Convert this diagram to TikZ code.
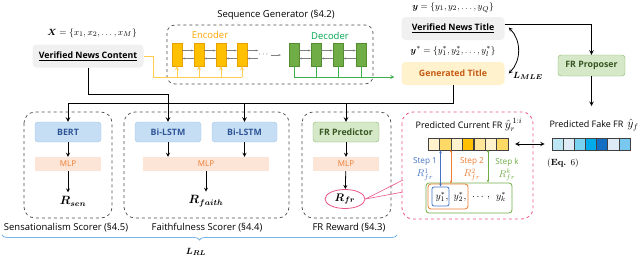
\documentclass[tikz,border=0pt]{standalone}
\usepackage{fontspec}
\setsansfont{Open Sans}
\usepackage{amsmath,bm}
\usetikzlibrary{shapes.geometric,decorations.pathreplacing,arrows.meta}
\definecolor{grayfill}{RGB}{240,240,240}
\definecolor{bluefill}{RGB}{197,222,244}
\definecolor{bluedraw}{RGB}{160,198,232}
\definecolor{bluetext}{RGB}{47,85,151}
\definecolor{mlpfill}{RGB}{252,228,214}
\definecolor{mlptext}{RGB}{237,125,49}
\definecolor{greenfill}{RGB}{213,232,200}
\definecolor{greendraw}{RGB}{130,180,100}
\definecolor{greentext}{RGB}{56,87,35}
\definecolor{encfill}{RGB}{255,192,0}
\definecolor{encdraw}{RGB}{230,160,0}
\definecolor{encline}{RGB}{255,205,80}
\definecolor{enctext}{RGB}{255,165,0}
\definecolor{decfill}{RGB}{112,173,71}
\definecolor{decdraw}{RGB}{84,140,50}
\definecolor{decline}{RGB}{60,175,75}
\definecolor{dectext}{RGB}{0,166,80}
\definecolor{genfill}{RGB}{255,242,204}
\definecolor{gentext}{RGB}{197,90,17}
\definecolor{pinkc}{RGB}{232,84,140}
\definecolor{bracec}{RGB}{120,180,230}
\definecolor{stepblue}{RGB}{68,114,196}
\definecolor{steporange}{RGB}{237,125,49}
\definecolor{stepgreen}{RGB}{112,173,71}
\definecolor{yA}{RGB}{255,242,204}
\definecolor{yB}{RGB}{255,217,102}
\definecolor{yC}{RGB}{255,192,0}
\definecolor{yD}{RGB}{255,230,153}
\definecolor{bA}{RGB}{189,230,245}
\definecolor{bB}{RGB}{222,235,247}
\definecolor{bC}{RGB}{120,210,240}
\definecolor{bD}{RGB}{0,170,235}
\definecolor{bE}{RGB}{20,110,195}
\definecolor{bF}{RGB}{120,200,240}
\begin{document}
\begin{tikzpicture}[x=1pt, y=-1pt, >=stealth,
	every node/.style={font=\sffamily\fontsize{9.5}{11}\selectfont},
	eq/.style={font=\fontsize{9.5}{11}\selectfont},
	graybox/.style={fill=grayfill, rounded corners=4pt, font=\sffamily\bfseries\fontsize{8.8}{10}\selectfont},
	genbox/.style={fill=genfill, rounded corners=4pt, text=gentext, minimum width=103pt, minimum height=23pt, font=\sffamily\bfseries\fontsize{8.8}{10}\selectfont},
	bluebox/.style={draw=bluedraw, fill=bluefill, text=bluetext, rounded corners=3pt, minimum height=20pt, font=\sffamily\bfseries\fontsize{8.8}{10}\selectfont},
	greenbox/.style={draw=greendraw, fill=greenfill, text=greentext, rounded corners=3pt, font=\sffamily\bfseries\fontsize{8.8}{10}\selectfont},
	mlp/.style={fill=mlpfill, text=mlptext, minimum height=14pt, inner sep=0pt, font=\sffamily\fontsize{8}{9}\selectfont},
	cellenc/.style={draw=encdraw, fill=encfill, minimum width=10pt, minimum height=23pt, inner sep=0pt},
	celldec/.style={draw=decdraw, fill=decfill, minimum width=10pt, minimum height=23pt, inner sep=0pt},
	cellarr/.style={gray, line width=0.5pt, >={Stealth[length=2.5pt,width=2pt]}},
	dbox/.style={dashed, gray!60!black, line width=0.7pt, rounded corners=11pt},
	barcell/.style={draw=black!75, minimum width=11.3pt, minimum height=12pt, inner sep=0pt},
	steparr/.style={line width=0.7pt, >={Stealth[length=3pt,width=2.5pt]}},
	steplab/.style={font=\sffamily\fontsize{8.2}{9}\selectfont},
	rstep/.style={font=\fontsize{10}{11}\selectfont},
	rlab/.style={font=\fontsize{12}{14}\selectfont}]
	\useasboundingbox (0,0) rectangle (640,260);
	% Định nghĩa các điểm
	\path
	(403,180) coordinate (zA)
	(403,192) coordinate (zB)
	(591.5,106) coordinate (fakein)
	;
	% Tin tức và tiêu đề
	\node[eq] (xeq) at (92,33) {$\bm{X} = \{x_1, x_2, \ldots, x_M\}$};
	\node[graybox, minimum width=111pt, minimum height=23pt] (content) at (88,56) {\underline{Verified News Content}};
	\node[eq] (yeq) at (453,7.5) {$\bm{y} = \{y_1, y_2, \ldots, y_Q\}$};
	\node[graybox, minimum width=103pt, minimum height=23pt] (title) at (453,28.5) {\underline{Verified News Title}};
	\node[eq] (ystar) at (453,51.5) {$\bm{y}^{*} = \{y_1^*, y_2^*, \ldots, y_l^*\}$};
	\node[genbox] (gen) at (453,73.5) {Generated Title};
	\node[greenbox, minimum width=67pt, minimum height=21pt] (proposer) at (591.5,65.5) {FR Proposer};
	% Bộ sinh chuỗi
	\draw[dashed, gray!60!black, line width=0.7pt, rounded corners=8pt] (167,25) rectangle (373,84);
	\node (seqlab) at (276,15) {Sequence Generator (§4.2)};
	\node[text=enctext] (enclab) at (210,35) {Encoder};
	\node[text=dectext] (declab) at (330,36) {Decoder};
	\foreach \x [count=\i] in {177,199,221,242} \node[cellenc] (e\i) at (\x,54.5) {};
	\foreach \x [count=\i] in {294,316,338,361} \node[celldec] (d\i) at (\x,54.5) {};
	\foreach \i/\j in {1/2,2/3,3/4} {
	\draw[cellarr,->] ([yshift=4pt]e\i.east) -- ([yshift=4pt]e\j.west);
	\draw[cellarr,<-] ([yshift=-4pt]e\i.east) -- ([yshift=-4pt]e\j.west);
	\draw[cellarr,->] ([yshift=4pt]d\i.east) -- ([yshift=4pt]d\j.west);
	\draw[cellarr,<-] ([yshift=-4pt]d\i.east) -- ([yshift=-4pt]d\j.west);
	}
	\draw[cellarr,->] ([yshift=4pt]e4.east) -- ++(11,0);
	\draw[cellarr,<-] ([yshift=-4pt]e4.east) -- ++(11,0);
	\node[inner sep=1pt, font=\fontsize{8}{9}\selectfont] (dots) at (264,55) {$\cdots$};
	\draw[cellarr,->] (dots.east) -- ++(10,0);
	% Đường vào encoder, ra decoder
	\draw[encline, line width=0.8pt] (content.east) -- ++(10,0) -- ++(0,21) -- (e4.south |- 0,77);
	\foreach \i in {1,...,4} \draw[encline, line width=0.8pt, ->] (e\i.south |- 0,77) -- (e\i.south);
	\foreach \i in {1,...,4} \draw[decline, line width=0.8pt] (d\i.south) -- (d\i.south |- 0,77);
	\draw[decline, line width=0.8pt, ->, shorten >=7pt] (d1.south |- 0,77) -- (gen.west |- 0,77);
	% L_MLE
	\draw[line width=0.8pt, <->] ([xshift=4pt,yshift=1pt]title.east) to[bend left=45] ([xshift=4pt]gen.east);
	\node[eq] (lmle) at (528,76) {$\bm{L_{MLE}}$};
	% Các bộ chấm điểm
	\draw[dbox] (24,112) rectangle (112,218);
	\draw[dbox] (124,112) rectangle (289,218);
	\draw[dbox] (302,112) rectangle (391,218);
	\node[bluebox, minimum width=66pt] (bert) at (68,132) {BERT};
	\node[bluebox, minimum width=66pt] (lstmA) at (168,132) {Bi-LSTM};
	\node[bluebox, minimum width=65pt] (lstmB) at (244.5,132) {Bi-LSTM};
	\node[greenbox, minimum width=66pt, minimum height=20pt] (pred) at (346,132) {FR Predictor};
	\node[mlp, minimum width=66pt] (mlpA) at (68,164) {MLP};
	\node[mlp, minimum width=126pt] (mlpB) at (206,164) {MLP};
	\node[mlp, minimum width=66pt] (mlpC) at (346,164) {MLP};
	\node[rlab] (rsen) at (73,201) {$\bm{R_{sen}}$};
	\node[rlab] (rfaith) at (206,201) {$\bm{R_{faith}}$};
	\node[ellipse, draw=pinkc, line width=0.8pt, minimum width=40pt, minimum height=19pt, inner sep=0pt, font=\fontsize{11}{12}\selectfont] (rfr) at (345,199) {$\bm{R_{fr}}$};
	\draw[line width=0.8pt, ->] (bert) -- (mlpA);
	\draw[line width=0.8pt, ->] (mlpA.south) -- (mlpA.south |- rsen.north);
	\draw[line width=0.8pt, ->] (lstmA) -- (lstmA |- mlpB.north);
	\draw[line width=0.8pt, ->] (lstmB) -- (lstmB |- mlpB.north);
	\draw[line width=0.8pt, ->] (mlpB) -- (rfaith);
	\draw[line width=0.8pt, ->] (pred) -- (mlpC);
	\draw[line width=0.8pt, ->] (mlpC) -- (rfr);
	\node (senlab) at (66,228) {Sensationalism Scorer (§4.5)};
	\node (faithlab) at (207,228) {Faithfulness Scorer (§4.4)};
	\node (frlab) at (349,228) {FR Reward (§4.3)};
	\draw[bracec, line width=0.8pt, decorate, decoration={brace, amplitude=5pt}] (397,235) -- (2,235);
	\node[eq] (lrl) at (196,252) {$\bm{L_{RL}}$};
	% Đường nối chính
	\draw[line width=1pt, ->] (content.south) -- ++(0,27) -| (lstmA.north);
	\draw[line width=1pt, ->] (gen.south) -- ++(0,18.5) -| (bert.north);
	\draw[line width=1pt, ->] (lstmB.north |- 0,103.5) -- (lstmB.north);
	\draw[line width=1pt, ->] (pred.north |- 0,103.5) -- (pred.north);
	\draw[line width=1pt, ->] ([yshift=4pt]title.east) -| (proposer.north);
	\draw[line width=1pt, ->] (proposer.south) -- (fakein);
	% Phần phóng to FR
	\draw[pinkc, dashed, line width=0.8pt, rounded corners=11pt] (402,112) rectangle (533,219);
	\draw[pinkc, line width=0.6pt] (rfr.east) -- (zA);
	\draw[pinkc, line width=0.6pt] (rfr.east) -- (zB);
	\node[font=\sffamily\fontsize{9}{10}\selectfont, inner sep=1pt] (curlab) at (469,125) {Predicted Current FR {\fontsize{12}{12}\selectfont$\hat{y}_r^{\,1:i}$}};
	\node[font=\sffamily\fontsize{9}{10}\selectfont, inner sep=1pt] (fakelab) at (594,125) {Predicted Fake FR\, {\fontsize{12}{12}\selectfont$\hat{y}_f$}};
	\foreach \c [count=\i] in {yA,yB,yA,yC,yD,yA,yB} \node[barcell, fill=\c] (r\i) at ({428+(\i-0.5)*11.43},144) {};
	\foreach \c [count=\i] in {bA,bB,bC,bD,bE,bB,bF} \node[barcell, fill=\c] (f\i) at ({552+(\i-0.5)*11.14},144) {};
	\draw[line width=1pt, <->, shorten <=7pt, shorten >=7pt] (r7.east) -- (f1.west);
	\node[font=\rmfamily\fontsize{9}{10}\selectfont] (eqsix) at (563,163) {(\textbf{Eq.} 6)};
	\node[steplab, text=stepblue] (s1) at (425,162) {Step 1};
	\node[rstep, text=stepblue] (rs1) at (425,175) {$R^1_{fr}$};
	\node[steplab, text=steporange] (s2) at (472,162) {Step 2};
	\node[rstep, text=steporange] (rs2) at (472,175) {$R^2_{fr}$};
	\node[steplab, text=stepgreen] (sk) at (507,162) {Step k};
	\node[rstep, text=stepgreen] (rsk) at (507,175) {$R^k_{fr}$};
	\node[draw=stepgreen, line width=0.8pt, rounded corners=3pt, minimum width=86pt, minimum height=30pt] (gbox) at (469,198) {};
	\node[draw=steporange, line width=0.8pt, rounded corners=3pt, minimum width=40pt, minimum height=25pt] (obox) at (448,196.5) {};
	\node[draw=stepblue, line width=0.8pt, rounded corners=2pt, minimum width=17pt, minimum height=19pt] (bbox) at (440.5,196.5) {};
	\node[eq, font=\fontsize{10}{11}\selectfont] (ya) at (442,197) {$y_1^*,$};
	\node[eq, font=\fontsize{10}{11}\selectfont] (yb) at (460,197) {$y_2^*,$};
	\node[eq, font=\fontsize{10}{11}\selectfont] (ydots) at (481,198) {$\ldots\,,$};
	\node[eq, font=\fontsize{10}{11}\selectfont] (yk) at (501,197) {$y_k^*$};
	\draw[stepblue, steparr, <->] (bbox.north) -- (bbox.north |- r1.south);
	\draw[steporange, steparr, <->] ([xshift=3pt]obox.north) -- ++(0,-34);
	\draw[stepgreen, steparr, <->] ([xshift=19pt]gbox.north) -- ++(0,-33);
\end{tikzpicture}
\end{document}
